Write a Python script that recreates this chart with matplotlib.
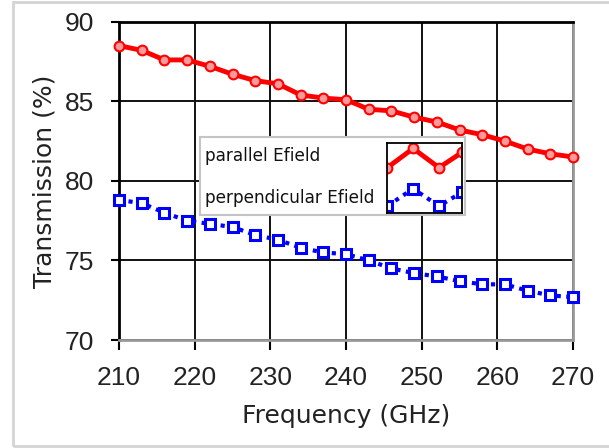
import matplotlib
matplotlib.use("Agg")
import matplotlib.pyplot as plt
from matplotlib.patches import Rectangle

# frequency sweep (GHz), one point every 3 GHz
freq = [210, 213, 216, 219, 222, 225, 228, 231, 234, 237, 240,
        243, 246, 249, 252, 255, 258, 261, 264, 267, 270]
parallel = [88.5, 88.2, 87.6, 87.6, 87.2, 86.7, 86.3, 86.1, 85.4, 85.2, 85.1,
            84.5, 84.4, 84.0, 83.7, 83.2, 82.9, 82.5, 82.0, 81.7, 81.5]
perpendicular = [78.8, 78.6, 78.0, 77.5, 77.3, 77.1, 76.6, 76.3, 75.8, 75.5, 75.4,
                 75.0, 74.5, 74.2, 74.0, 73.7, 73.5, 73.5, 73.1, 72.8, 72.7]
labels = ["parallel Efield", "perpendicular Efield"]
xticks = [210, 220, 230, 240, 250, 260, 270]
yticks = [70, 75, 80, 85, 90]

RED = "#ff0000"
BLUE = "#0000ff"
red_style = dict(color=RED, lw=3.5, marker="o", ms=7, mfc="#ff9a9a", mec=RED, mew=1.5)
blue_style = dict(color=BLUE, lw=3, ls=(0, (1, 1.3)), marker="s", ms=7,
                  mfc="white", mec=BLUE, mew=2.2)

fig = plt.figure(figsize=(6.09, 4.48), dpi=100)
# light frame around the panel
fig.add_artist(Rectangle((13 / 609, 2 / 448), 1.0, 444 / 448, transform=fig.transFigure,
                         fill=False, edgecolor="#d4d4d4", lw=2))
ax = fig.add_axes([0.1954, 0.241, 0.7455, 0.7105])

ax.plot(freq, parallel, zorder=3, clip_on=False, **red_style)
ax.plot(freq, perpendicular, zorder=3, clip_on=False, **blue_style)

ax.set_xlim(210, 270)
ax.set_ylim(70, 90)
ax.set_xticks(xticks)
ax.set_yticks(yticks)
ax.grid(True, color="#111111", lw=1.4)
for side, s in ax.spines.items():
    s.set_linewidth(2)
    if side in ("right", "bottom"):
        s.set_color("#9a9a9a")
tick_font = dict(family="Liberation Sans", size=19)
ax.set_xticklabels([str(t) for t in xticks], **tick_font, color="#222222")
ax.set_yticklabels([str(t) for t in yticks], **tick_font, color="#222222")
ax.tick_params(axis="y", width=1.5, length=6, direction="out", pad=12)
ax.tick_params(axis="x", width=1.5, length=7, direction="out", pad=12)
ax.set_xlabel("Frequency (GHz)", family="DejaVu Sans", fontsize=18, color="#222222",
              labelpad=10)
ax.set_ylabel("Transmission (%)", family="DejaVu Sans", fontsize=18, color="#222222",
              labelpad=6)

# legend box, samples on the right inside a framed box
ax.add_patch(Rectangle((0.178, 0.393), 0.585, 0.245, transform=ax.transAxes,
                       facecolor="white", edgecolor="#c4c4c4", lw=1.5, zorder=4))
ax.text(0.189, 0.578, labels[0], transform=ax.transAxes, fontsize=12.2,
        va="center", zorder=5, color="#111111")
ax.text(0.189, 0.446, labels[1], transform=ax.transAxes, fontsize=12.2,
        va="center", zorder=5, color="#111111")
sample = fig.add_axes([0.1954 + 0.591 * 0.7455, 0.241 + 0.40 * 0.7105,
                       0.165 * 0.7455, 0.22 * 0.7105])
sample.set_zorder(6)
zig = [0, 1, 0, 0.8]
sample.plot([0, 1, 2, 2.9], [z + 2 for z in zig], **red_style)
sample.plot([0, 1, 2, 2.9], [z * 0.9 for z in zig], **blue_style)
sample.set_xlim(0, 2.9)
sample.set_ylim(-0.35, 3.3)
sample.set_xticks([])
sample.set_yticks([])
for s in sample.spines.values():
    s.set_linewidth(1.3)

fig.savefig("out.png", dpi=100)
